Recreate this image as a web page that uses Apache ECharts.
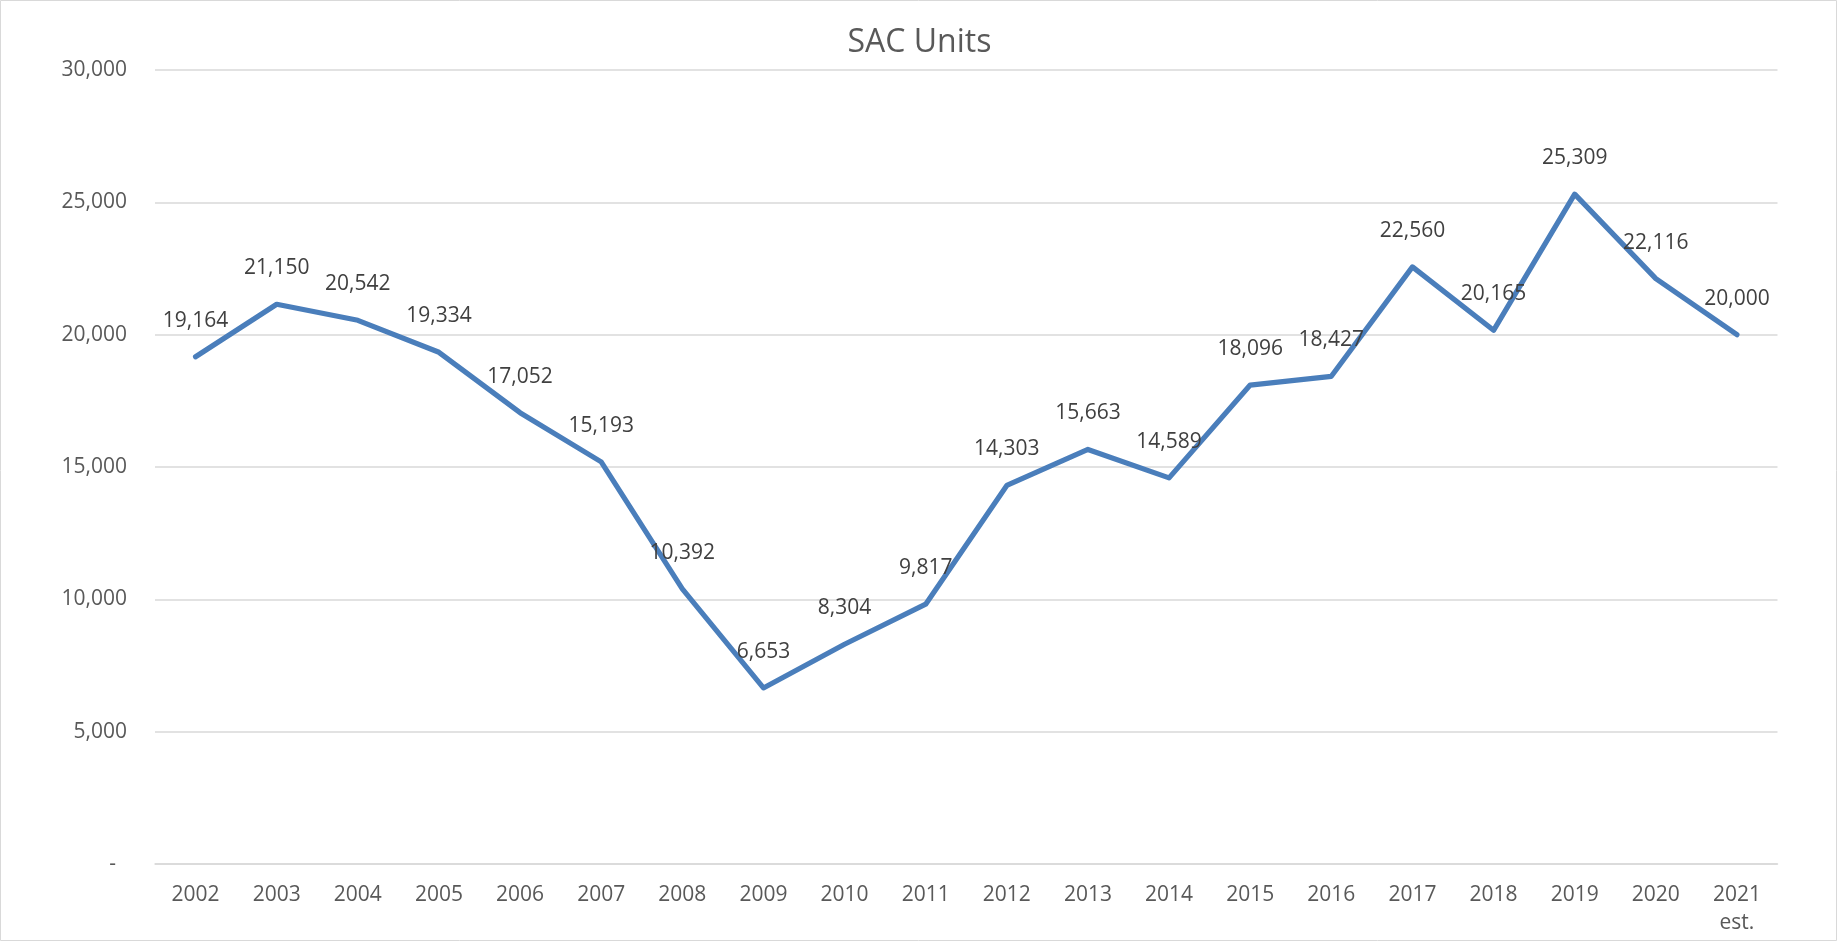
<!DOCTYPE html>
<html>
<head>
<meta charset="utf-8">
<script src="https://cdn.jsdelivr.net/npm/echarts@6/dist/echarts.min.js"></script>
<style>
html,body{margin:0;padding:0;background:#fff;}
#chart{width:1839px;height:942px;}
</style>
</head>
<body>
<div id="chart"></div>
<script>
const titleText = 'SAC Units';
const categories = ['2002','2003','2004','2005','2006','2007','2008','2009','2010','2011','2012','2013','2014','2015','2016','2017','2018','2019','2020','2021\nest.'];
const sacUnits = [19164, 21150, 20542, 19334, 17052, 15193, 10392, 6653, 8304, 9817, 14303, 15663, 14589, 18096, 18427, 22560, 20165, 25309, 22116, 20000];
const yTicks = [0, 5000, 10000, 15000, 20000, 25000, 30000];

const fmt = v => v === 0 ? '-  ' : v.toLocaleString('en-US');
const font = 'Open Sans';

const chart = echarts.init(document.getElementById('chart'), null, {renderer: 'canvas'});
chart.setOption({
  backgroundColor: '#ffffff',
  animation: false,
  title: {
    text: titleText,
    left: 'center',
    top: 22,
    textStyle: {fontFamily: font, fontSize: 32, fontWeight: 'normal', color: '#595959'}
  },
  graphic: [{
    type: 'rect',
    shape: {x: 0.5, y: 0.5, width: 1836, height: 940},
    style: {fill: 'none', stroke: '#d9d9d9', lineWidth: 1},
    silent: true
  }],
  grid: {left: 155, right: 61.5, top: 70, bottom: 78, containLabel: false},
  xAxis: {
    type: 'category',
    data: categories,
    boundaryGap: true,
    axisLine: {show: true, lineStyle: {color: '#d9d9d9', width: 1.5}},
    axisTick: {show: false},
    axisLabel: {
      fontFamily: font, fontSize: 21, color: '#595959', margin: 17,
      lineHeight: 28, interval: 0, align: 'center'
    }
  },
  yAxis: {
    type: 'value',
    min: yTicks[0],
    max: yTicks[yTicks.length - 1],
    interval: 5000,
    axisLine: {show: false},
    axisTick: {show: false},
    splitLine: {lineStyle: {color: '#d9d9d9', width: 1.5}},
    axisLabel: {fontFamily: font, fontSize: 21, color: '#595959', margin: 28, formatter: fmt}
  },
  series: [{
    type: 'line',
    data: sacUnits,
    symbol: 'circle',
    symbolSize: 1,
    showSymbol: true,
    lineStyle: {color: '#4a7ebb', width: 5.2, join: 'round', cap: 'round'},
    itemStyle: {color: 'rgba(74,126,187,0)', borderWidth: 0},
    label: {
      show: true,
      position: 'top',
      distance: 25,
      fontFamily: font,
      fontSize: 21,
      color: '#404040',
      formatter: p => p.value.toLocaleString('en-US')
    },
    labelLayout: {hideOverlap: false}
  }]
});
</script>
</body>
</html>
